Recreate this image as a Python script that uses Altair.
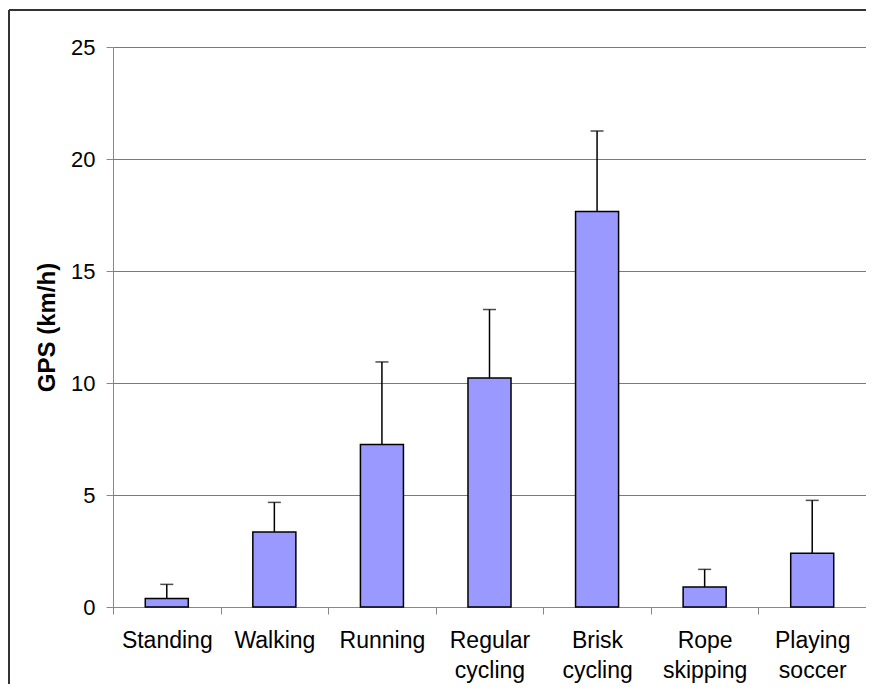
import altair as alt
import pandas as pd

categories = ["Standing", "Walking", "Running", "Regular cycling",
              "Brisk cycling", "Rope skipping", "Playing soccer"]
means = [0.38, 3.35, 7.26, 10.22, 17.66, 0.89, 2.40]
sds = [0.63, 1.32, 3.68, 3.06, 3.59, 0.79, 2.36]
y_ticks = [0, 5, 10, 15, 20, 25]

df = pd.DataFrame({"activity": categories, "mean": means, "sd": sds})

FONT = "Liberation Sans"

base = alt.Chart(df).transform_calculate(
    upper="datum.mean + datum.sd"
).encode(
    x=alt.X(
        "activity:N",
        sort=categories,
        scale=alt.Scale(paddingInner=0, paddingOuter=0),
        axis=alt.Axis(
            title=None,
            labelAngle=0,
            labelExpr="split(datum.label, ' ')",
            labelLineHeight=30,
            labelFontSize=23,
            labelPadding=15,
            tickBand="extent",
            tickSize=7,
            grid=False,
        ),
    )
)

bars = base.mark_bar(
    width={"band": 0.4}, fill="#9999ff", stroke="black", strokeWidth=1.5
).encode(
    y=alt.Y(
        "mean:Q",
        scale=alt.Scale(domain=[0, 25], nice=False),
        axis=alt.Axis(
            title="GPS (km/h)",
            values=y_ticks,
            labelFontSize=22,
            labelPadding=11,
            tickSize=7,
            grid=True,
            gridColor="#7a7a7a",
            gridWidth=1,
            titleFontSize=24,
            titleFontWeight="bold",
            titlePadding=11,
        ),
    )
)

err = base.mark_rule(color="black", strokeWidth=1.5).encode(
    y="mean:Q", y2="upper:Q"
)
cap = base.mark_tick(color="black", size=13, thickness=1.5).encode(y="upper:Q")

frame_df = pd.DataFrame({"a": [0]})
top_line = alt.Chart(frame_df).mark_rule(color="#333333", strokeWidth=2).encode(
    x=alt.value(-104), x2=alt.value(753), y=alt.value(-37)
)
left_line = alt.Chart(frame_df).mark_rule(color="#333333", strokeWidth=2).encode(
    x=alt.value(-104), y=alt.value(-37), y2=alt.value(640)
)

chart = alt.layer(bars, err, cap, top_line, left_line).properties(
    width=753,
    height=560,
    autosize=alt.AutoSizeParams(type="none"),
    padding={"left": 105, "top": 39, "right": 0, "bottom": 77},
).configure_view(
    stroke="#7a7a7a", strokeWidth=1
).configure_axis(
    labelFont=FONT, titleFont=FONT, labelColor="black", titleColor="black",
    domainColor="black", tickColor="black", domainWidth=1, tickWidth=1,
).configure(background="white")

chart.save("out.html", embed_options={"renderer": "svg", "actions": False})
